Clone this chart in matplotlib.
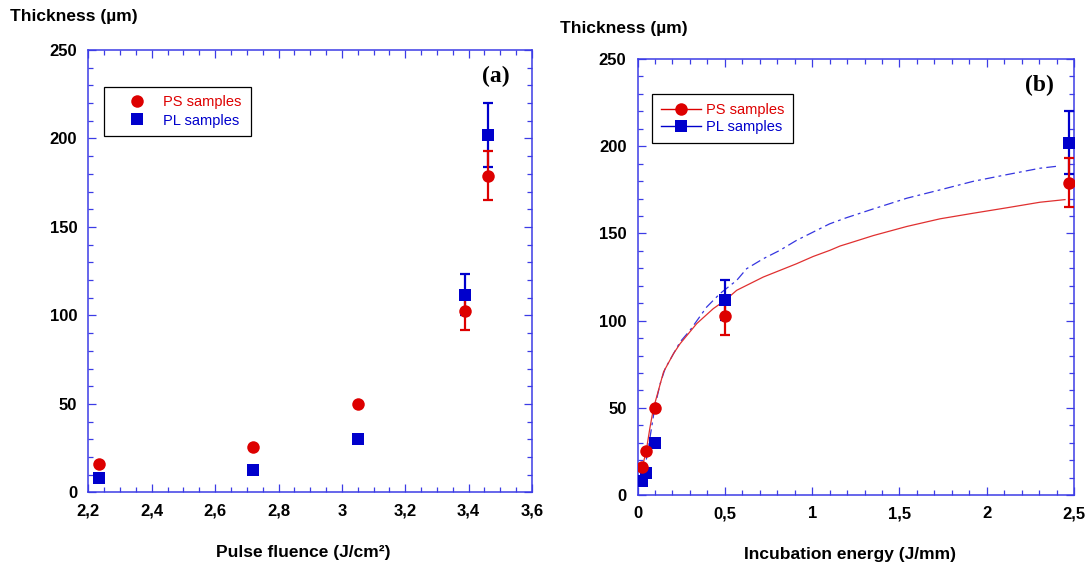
import numpy as np
import matplotlib
matplotlib.use('Agg')
import matplotlib.pyplot as plt
from matplotlib.lines import Line2D

plt.rcParams['font.family'] = 'Liberation Sans'
plt.rcParams['lines.scale_dashes'] = False

# measured points
fluence = [2.233, 2.721, 3.05, 3.39, 3.46]
energy = [0.025, 0.05, 0.1, 0.5, 2.47]
ps_thick = [16, 25.5, 50, 102.8, 179]
pl_thick = [8, 12.5, 30, 111.7, 202]
ps_err = [0, 0, 0, 11, 14]
pl_err = [0, 0, 0, 11.5, 18]

# fit curves
ps_fit_x = [0.012, 0.025, 0.05, 0.07, 0.091, 0.149, 0.206, 0.244, 0.339, 0.434, 0.501,
            0.568, 0.72, 0.815, 0.91, 1.006, 1.101, 1.16, 1.215, 1.351, 1.542, 1.733,
            1.923, 2.114, 2.305, 2.448]
ps_fit_y = [8, 15, 25.4, 38, 49.6, 70.6, 81.1, 86.8, 98.3, 106.9, 111.6,
            117.4, 125, 128.8, 132.6, 136.8, 140.3, 142.8, 144.5, 148.8, 154, 158.4,
            161.6, 164.7, 167.9, 169.4]
pl_fit_x = [0.03, 0.063, 0.1, 0.13, 0.158, 0.244, 0.301, 0.396, 0.472, 0.568, 0.625,
            0.72, 0.815, 0.91, 1.006, 1.10, 1.196, 1.351, 1.542, 1.733, 1.923, 2.114,
            2.305, 2.40]
pl_fit_y = [8.6, 27.7, 51, 64, 72.5, 87.8, 94.5, 107.8, 115.5, 123.1, 129.8,
            135.5, 140.3, 146, 150.8, 155.5, 159, 164.1, 170.2, 175, 179.9, 183.7,
            187.4, 188.5]

xticks_a = [2.2, 2.4, 2.6, 2.8, 3.0, 3.2, 3.4, 3.6]
xlabels_a = ['2,2', '2,4', '2,6', '2,8', '3', '3,2', '3,4', '3,6']
xticks_b = [0, 0.5, 1, 1.5, 2, 2.5]
xlabels_b = ['0', '0,5', '1', '1,5', '2', '2,5']
yticks = [0, 50, 100, 150, 200, 250]

RED = '#dd0000'
BLUE = '#0000cc'
SPINE = '#3c3ce6'

fig = plt.figure(figsize=(10.9, 5.64), dpi=100)
ax1 = fig.add_axes([0.0811, 0.1268, 0.407, 0.7846])
ax2 = fig.add_axes([0.5849, 0.1223, 0.4005, 0.7730])


def style(ax, xticks, xlabels, xminor):
    ax.set_ylim(0, 250)
    ax.set_xticks(xticks)
    ax.set_xticklabels(xlabels)
    ax.set_xlim(xticks[0], xticks[-1])
    ax.set_yticks(yticks)
    ax.set_yticklabels([str(v) for v in yticks])
    ax.set_xticks(np.arange(xticks[0], xticks[-1] + 1e-9, xminor), minor=True)
    ax.set_yticks(np.arange(0, 251, 10), minor=True)
    ax.tick_params(which='both', direction='in', top=True, right=True,
                   color=SPINE, width=0.9)
    ax.tick_params(which='major', length=6, labelsize=12, pad=8)
    ax.tick_params(which='minor', length=3.5)
    for lab in ax.get_xticklabels() + ax.get_yticklabels():
        lab.set_fontweight('bold')
    for sp in ax.spines.values():
        sp.set_color(SPINE)
        sp.set_linewidth(1.1)


def points(ax):
    xs = energy if ax is ax2 else fluence
    e = np.array(pl_err, dtype=float)
    m = e > 0
    ax.errorbar(np.array(xs)[m], np.array(pl_thick)[m],
                yerr=e[m], fmt='none', ecolor=BLUE, elinewidth=1.6, capsize=3.5,
                capthick=1.6, zorder=3)
    e = np.array(ps_err, dtype=float)
    m = e > 0
    ax.errorbar(np.array(xs)[m], np.array(ps_thick)[m],
                yerr=e[m], fmt='none', ecolor=RED, elinewidth=1.6, capsize=3.5,
                capthick=1.6, zorder=3)
    ax.plot(xs, pl_thick, 's', color=BLUE, ms=8.5, mew=0, zorder=4)
    ax.plot(xs, ps_thick, 'o', color=RED, ms=9, mew=0, zorder=4)


# panel (a)
style(ax1, xticks_a, xlabels_a, 0.05)
points(ax1)
ax1.text(0.919, 0.94, '(a)', transform=ax1.transAxes, ha='center', va='center',
         fontsize=17, fontweight='bold', family='Liberation Serif')
h_a = [Line2D([], [], ls='none', marker='o', color=RED, ms=9, mew=0),
       Line2D([], [], ls='none', marker='s', color=BLUE, ms=8.5, mew=0)]
leg = ax1.legend(h_a, ['PS samples', 'PL samples'], loc='upper left',
                 bbox_to_anchor=(0.036, 0.917), borderaxespad=0, fancybox=False,
                 edgecolor='black', framealpha=1, fontsize=10.5, handlelength=3.3,
                 handletextpad=0.15, labelspacing=0.28, borderpad=0.6,
                 labelcolor=[RED, BLUE])
leg.get_frame().set_linewidth(0.9)

# panel (b)
style(ax2, xticks_b, xlabels_b, 0.1)
ax2.plot(pl_fit_x, pl_fit_y, color='#3535e0', lw=0.9, ls=(0, (7, 3, 2, 3)), zorder=2)
ax2.plot(ps_fit_x, ps_fit_y, color='#e03030', lw=0.9, zorder=2)
points(ax2)
ax2.text(0.92, 0.94, '(b)', transform=ax2.transAxes, ha='center', va='center',
         fontsize=17, fontweight='bold', family='Liberation Serif')
h_b = [Line2D([], [], color=RED, lw=1, marker='o', ms=9, mew=0),
       Line2D([], [], color=BLUE, lw=1, marker='s', ms=8.5, mew=0)]
leg = ax2.legend(h_b, ['PS samples', 'PL samples'], loc='upper left',
                 bbox_to_anchor=(0.034, 0.92), borderaxespad=0, fancybox=False,
                 edgecolor='black', framealpha=1, fontsize=10.5, handlelength=2.7,
                 handletextpad=0.4, labelspacing=0.25, borderpad=0.6,
                 labelcolor=[RED, BLUE])
leg.get_frame().set_linewidth(0.9)

# axis titles
fig.text(10 / 1090, 1 - 17 / 564, 'Thickness (µm)', fontsize=12.5, fontweight='bold',
         va='center', ha='left')
fig.text(560 / 1090, 1 - 28 / 564, 'Thickness (µm)', fontsize=12.5, fontweight='bold',
         va='center', ha='left')
fig.text(303 / 1090, 1 - 553 / 564, 'Pulse fluence (J/cm²)', fontsize=12.5,
         fontweight='bold', va='center', ha='center')
fig.text(850 / 1090, 1 - 555 / 564, 'Incubation energy (J/mm)', fontsize=12.5,
         fontweight='bold', va='center', ha='center')

fig.savefig('out.png', dpi=100)
